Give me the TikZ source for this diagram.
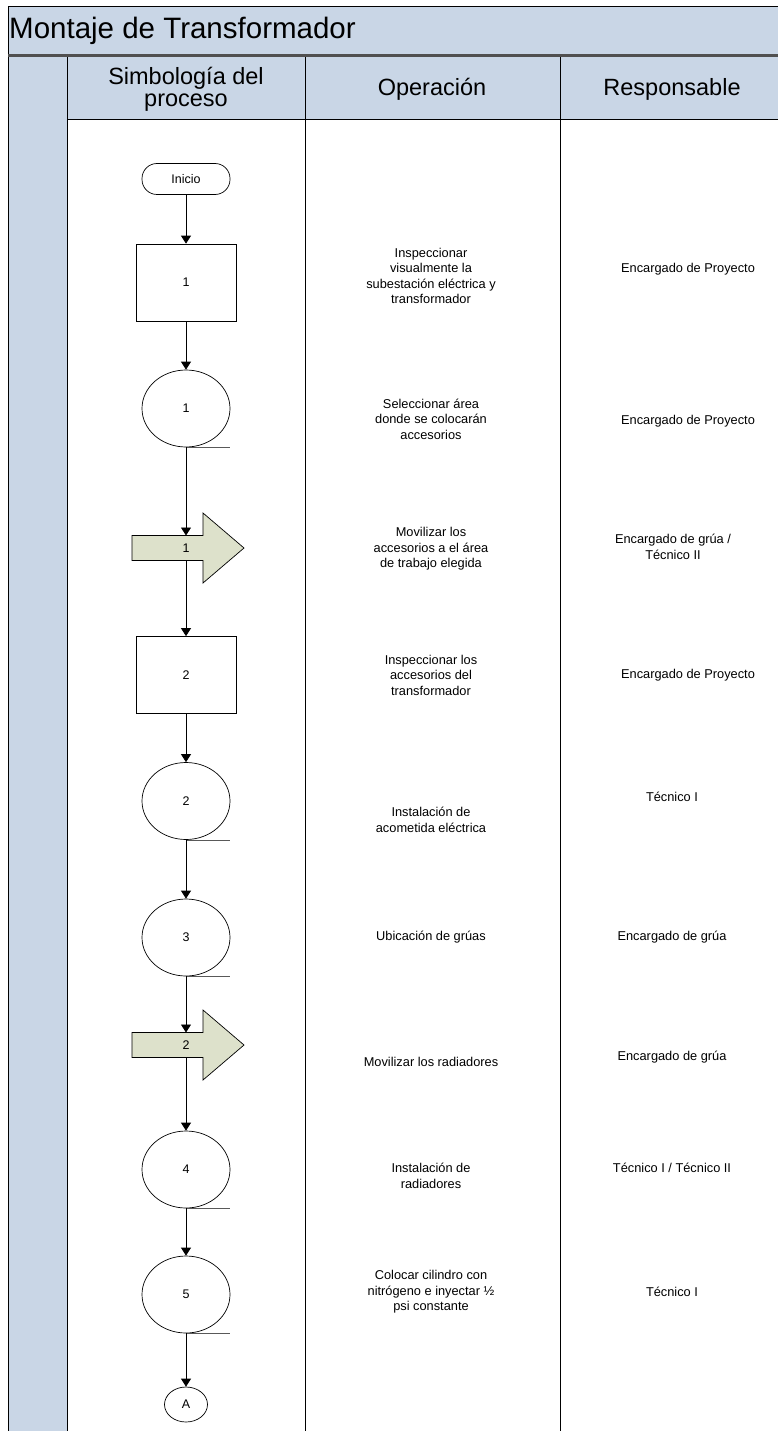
\documentclass[tikz,border=0pt]{standalone}
\usepackage{fontspec}
\setmainfont{Liberation Sans}
\usetikzlibrary{shapes.geometric,arrows.meta}
\definecolor{hdrblue}{HTML}{C9D6E6}
\definecolor{arrfill}{HTML}{DDE1CB}
\definecolor{thickgray}{HTML}{505050}
\begin{document}
\begin{tikzpicture}[x=1pt,y=-1pt,
  frameline/.style={line width=1pt, black},
  conn/.style={draw, line width=0.8pt, -{Triangle[length=8pt,width=10pt]}},
  tail/.style={draw, line width=0.7pt, gray!70!black},
  symfont/.style={font=\fontsize{12.5}{14}\selectfont},
  procbox/.style={draw, line width=0.7pt, minimum width=100pt, minimum height=77pt, inner sep=0pt, symfont},
  opcirc/.style={draw, ellipse, line width=0.7pt, minimum width=88pt, minimum height=77pt, inner sep=0pt, symfont},
  termbox/.style={draw, rounded corners=15pt, line width=0.7pt, minimum width=88pt, minimum height=31pt, inner sep=0pt, symfont},
  connA/.style={draw, ellipse, line width=0.7pt, minimum width=43pt, minimum height=35pt, inner sep=0pt, symfont},
  blockarr/.style={fill=arrfill, draw, line width=0.7pt},
  bodytxt/.style={align=center, inner sep=0pt, font=\fontsize{12.8}{15.5}\selectfont},
  hdrtxt/.style={align=center, inner sep=0pt, font=\fontsize{23.5}{22}\selectfont}]
\useasboundingbox (0,0) rectangle (778,1431);
\fill[white] (0,0) rectangle (778,1431);
% header backgrounds
\fill[hdrblue] (8,7) rectangle (778,120);
\fill[hdrblue] (8,120) rectangle (67,1431);
% frame lines
\draw[frameline] (8,1431) -- (8,7) -- (778,7);
\draw[frameline] (67,120) -- (778,120);
\draw[frameline] (67,57) -- (67,1431);
\draw[frameline] (305,57) -- (305,1431);
\draw[frameline] (560,57) -- (560,1431);
\draw[thickgray, line width=2.5pt] (8,55.5) -- (778,55.5);
% titles
\node[anchor=west, inner sep=0pt, font=\fontsize{29.5}{30}\selectfont] (title) at (9,31) {Montaje de Transformador};
\node[hdrtxt] (h1) at (186,89) {Simbología del\\proceso};
\node[hdrtxt] (h2) at (432,89) {Operación};
\node[hdrtxt] (h3) at (672,89) {Responsable};
% symbols
\node[termbox] (ini) at (186,179) {Inicio};
\node[procbox] (r1) at (186,282.5) {1};
\node[opcirc] (c1) at (186,408.5) {1};
\draw[blockarr] (132,535.5) -- (203,535.5) -- (203,513) -- (244,548) -- (203,583) -- (203,560.5) -- (132,560.5) -- cycle;
\node[symfont, inner sep=0pt] (a1) at (186,548) {1};
\coordinate (a1t) at (186,535.5);
\coordinate (a1b) at (186,560.5);
\node[procbox] (r2) at (186,675) {2};
\node[opcirc] (c2) at (186,801) {2};
\node[opcirc] (c3) at (186,937.5) {3};
\draw[blockarr] (132,1032.5) -- (203,1032.5) -- (203,1010) -- (244,1045) -- (203,1080) -- (203,1057.5) -- (132,1057.5) -- cycle;
\node[symfont, inner sep=0pt] (a2) at (186,1045) {2};
\coordinate (a2t) at (186,1032.5);
\coordinate (a2b) at (186,1057.5);
\node[opcirc] (c4) at (186,1169.5) {4};
\node[opcirc] (c5) at (186,1294.5) {5};
\node[connA] (cA) at (186,1404.5) {A};
% tails
\foreach \c in {c1,c2,c3,c4,c5} \draw[tail] (\c.south) -- ++(44,0);
% connectors
\draw[conn] (ini.south) -- (r1.north);
\draw[conn] (r1.south) -- (c1.north);
\draw[conn] (c1.south) -- (a1t);
\draw[conn] (a1b) -- (r2.north);
\draw[conn] (r2.south) -- (c2.north);
\draw[conn] (c2.south) -- (c3.north);
\draw[conn] (c3.south) -- (a2t);
\draw[conn] (a2b) -- (c4.north);
\draw[conn] (c4.south) -- (c5.north);
\draw[conn] (c5.south) -- (cA.north);
% operation texts
\node[bodytxt] (o1) at (431,276) {Inspeccionar\\visualmente la\\subestación eléctrica y\\transformador};
\node[bodytxt] (o2) at (431,419) {Seleccionar área\\donde se colocarán\\accesorios};
\node[bodytxt] (o3) at (431,549) {Movilizar los\\accesorios a el área\\de trabajo elegida};
\node[bodytxt] (o4) at (431,675) {Inspeccionar los\\accesorios del\\transformador};
\node[bodytxt] (o5) at (431,820) {Instalación de\\acometida eléctrica};
\node[bodytxt] (o6) at (431,937) {Ubicación de grúas};
\node[bodytxt] (o7) at (431,1062) {Movilizar los radiadores};
\node[bodytxt] (o8) at (431,1176) {Instalación de\\radiadores};
\node[bodytxt] (o9) at (431,1292) {Colocar cilindro con\\nitrógeno e inyectar ½\\psi constante};
% responsible texts
\node[bodytxt] (p1) at (688,269) {Encargado de Proyecto};
\node[bodytxt] (p2) at (688,421) {Encargado de Proyecto};
\node[bodytxt] (p3) at (673,547) {Encargado de grúa /\\Técnico II};
\node[bodytxt] (p4) at (688,675) {Encargado de Proyecto};
\node[bodytxt] (p5) at (672,797) {Técnico I};
\node[bodytxt] (p6) at (672,937) {Encargado de grúa};
\node[bodytxt] (p7) at (672,1057) {Encargado de grúa};
\node[bodytxt] (p8) at (672,1168) {Técnico I / Técnico II};
\node[bodytxt] (p9) at (672,1292) {Técnico I};
\end{tikzpicture}
\end{document}
